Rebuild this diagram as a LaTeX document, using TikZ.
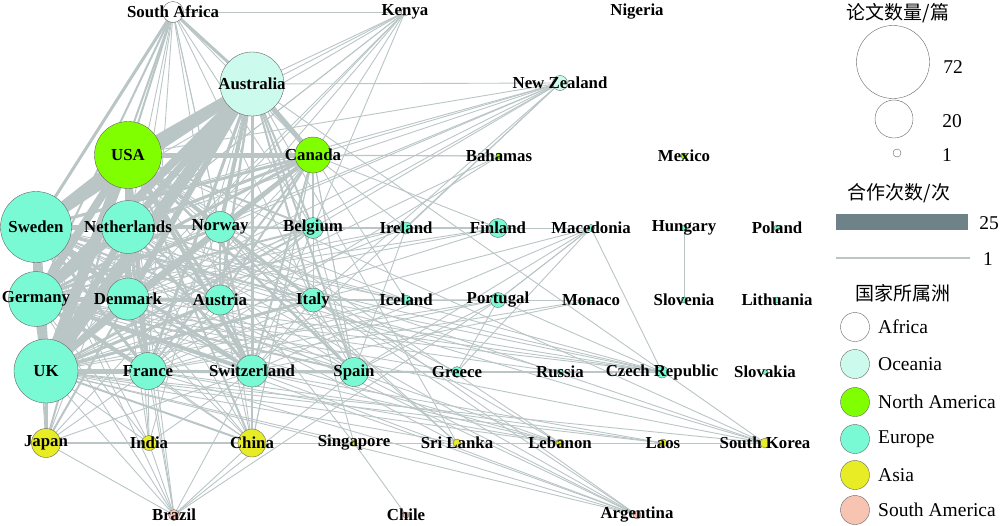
\documentclass[tikz,border=0pt]{standalone}
\usepackage{fontspec}
\setmainfont{Liberation Serif}
\newfontfamily\zhfont{Noto Sans CJK SC}
\pgfdeclarelayer{edges}
\pgfsetlayers{edges,main}

\definecolor{africa}{RGB}{255,255,255}
\definecolor{oceania}{RGB}{204,250,236}
\definecolor{namer}{RGB}{128,255,0}
\definecolor{europe}{RGB}{122,250,212}
\definecolor{asia}{RGB}{232,236,36}
\definecolor{samer}{RGB}{248,196,178}
\definecolor{edgegray}{RGB}{186,197,198}
\definecolor{bargray}{RGB}{111,130,135}

\begin{document}
\begin{tikzpicture}[
    x=1pt, y=-1pt,
    country/.style={circle, draw=black!60, line width=0.4pt, inner sep=0pt, minimum size=#1},
    tag/.style={font=\fontsize{16.8}{18}\selectfont\bfseries, inner sep=0pt},
    key/.style={font=\fontsize{19.5}{21}\selectfont, inner sep=0pt},
    head/.style={font=\zhfont\fontsize{19}{21}\selectfont, inner sep=0pt},
    link/.style={draw=edgegray, line width=#1}
]
    \useasboundingbox (0,0) rectangle (1000,525);

    % countries, one row after another
    \node[country=21, fill=africa, label={[tag]center:South Africa}] (sa) at (173,12) {};
    \node[country=8, fill=africa, label={[tag]center:Kenya}] (kenya) at (405,12) {};
    \node[country=3, fill=africa, label={[tag]center:Nigeria}] (nigeria) at (637,12) {};

    \node[country=64, fill=oceania, label={[tag]center:Australia}] (aus) at (252,84) {};
    \node[country=15, fill=oceania, label={[tag]center:New Zealand}] (nz) at (560,83) {};

    \node[country=67, fill=namer, label={[tag]center:USA}] (usa) at (128,155) {};
    \node[country=36, fill=namer, label={[tag]center:Canada}] (can) at (313,155) {};
    \node[country=6, fill=namer, label={[tag]center:Bahamas}] (bah) at (499,156) {};
    \node[country=6, fill=namer, label={[tag]center:Mexico}] (mex) at (684,156) {};

    \node[country=71, fill=europe, label={[tag]center:Sweden}] (swe) at (36,227) {};
    \node[country=53, fill=europe, label={[tag]center:Netherlands}] (ned) at (128,227) {};
    \node[country=31, fill=europe, label={[tag]center:Norway}] (nor) at (220,227) {};
    \node[country=21, fill=europe, label={[tag]center:Belgium}] (bel) at (313,228) {};
    \node[country=12, fill=europe, label={[tag]center:Ireland}] (ire) at (406,228) {};
    \node[country=19, fill=europe, label={[tag]center:Finland}] (fin) at (498,228) {};
    \node[country=7, fill=europe, label={[tag]center:Macedonia}] (mac) at (591,228) {};
    \node[country=6, fill=europe, label={[tag]center:Hungary}] (hun) at (684,228) {};
    \node[country=6, fill=europe, label={[tag]center:Poland}] (pol) at (777,228) {};

    \node[country=55, fill=europe, label={[tag]center:Germany}] (ger) at (36,299) {};
    \node[country=42, fill=europe, label={[tag]center:Denmark}] (den) at (128,299) {};
    \node[country=30, fill=europe, label={[tag]center:Austria}] (aut) at (220,300) {};
    \node[country=24, fill=europe, label={[tag]center:Italy}] (ita) at (313,300) {};
    \node[country=10, fill=europe, label={[tag]center:Iceland}] (ice) at (406,300) {};
    \node[country=15, fill=europe, label={[tag]center:Portugal}] (por) at (498,300) {};
    \node[country=5, fill=europe, label={[tag]center:Monaco}] (mon) at (591,300) {};
    \node[country=6, fill=europe, label={[tag]center:Slovenia}] (slo) at (684,300) {};
    \node[country=6, fill=europe, label={[tag]center:Lithuania}] (lit) at (777,300) {};

    \node[country=64, fill=europe, label={[tag]center:UK}] (uk) at (46,371) {};
    \node[country=37, fill=europe, label={[tag]center:France}] (fra) at (148,371) {};
    \node[country=32, fill=europe, label={[tag]center:Switzerland}] (sui) at (252,371) {};
    \node[country=29, fill=europe, label={[tag]center:Spain}] (esp) at (354,372) {};
    \node[country=11, fill=europe, label={[tag]center:Greece}] (gre) at (457,372) {};
    \node[country=6, fill=europe, label={[tag]center:Russia}] (rus) at (560,372) {};
    \node[country=12, fill=europe, label={[tag]center:Czech Republic}] (cze) at (662,372) {};
    \node[country=5, fill=europe, label={[tag]center:Slovakia}] (svk) at (765,372) {};

    \node[country=29, fill=asia, label={[tag]center:Japan}] (jpn) at (46,443) {};
    \node[country=15, fill=asia, label={[tag]center:India}] (ind) at (149,443) {};
    \node[country=28, fill=asia, label={[tag]center:China}] (chn) at (252,443) {};
    \node[country=6, fill=asia, label={[tag]center:Singapore}] (sgp) at (354,443) {};
    \node[country=8, fill=asia, label={[tag]center:Sri Lanka}] (lka) at (457,443) {};
    \node[country=8, fill=asia, label={[tag]center:Lebanon}] (lbn) at (560,443) {};
    \node[country=8, fill=asia, label={[tag]center:Laos}] (lao) at (663,443) {};
    \node[country=10, fill=asia, label={[tag]center:South Korea}] (kor) at (765,443) {};

    \node[country=11, fill=samer, label={[tag]center:Brazil}] (bra) at (174,515) {};
    \node[country=6, fill=samer, label={[tag]center:Chile}] (chl) at (406,515) {};
    \node[country=8, fill=samer, label={[tag]center:Argentina}] (arg) at (637,515) {};

    % cooperation links, under the circles
    \begin{pgfonlayer}{edges}
    \foreach \a/\b/\w in {aus/uk/12, aus/swe/10, aus/ger/8, aus/usa/7, aus/ned/7, aus/den/6, aus/can/5, aus/nor/4,
        aus/fra/3, aus/sui/3, aus/aut/2.5, aus/chn/2, aus/jpn/2, aus/bel/2, aus/ita/2, aus/esp/2,
        sa/aus/3, sa/swe/3, sa/usa/2, sa/uk/2, sa/ger/2,
        usa/swe/9, usa/uk/11, usa/ger/8, usa/ned/6, usa/den/6, usa/can/5, usa/nor/4, usa/fra/4, usa/sui/4,
        usa/aut/3, usa/ita/3, usa/esp/2.5, usa/jpn/2, usa/chn/2, usa/bel/2,
        swe/ger/6, swe/uk/8, swe/ned/5, swe/den/5, swe/nor/4, swe/fra/3, swe/sui/3, swe/can/3, swe/aut/2, swe/ita/2,
        ger/uk/7, ger/ned/6, ger/den/5, ger/fra/4, ger/sui/4, ger/aut/4, ger/nor/3, ger/can/3, ger/ita/2, ger/esp/2, ger/bel/2,
        uk/ned/7, uk/den/6, uk/fra/5, uk/sui/3, uk/esp/3, uk/jpn/3, uk/nor/4, uk/aut/3, uk/can/4, uk/ita/3, uk/bel/2, uk/chn/2,
        ned/den/5, ned/nor/3, ned/can/3, ned/fra/3, ned/sui/3, ned/bel/2, ned/aut/2,
        den/nor/3, den/can/3, den/fra/3, den/aut/2, den/sui/2,
        can/nor/3, can/sui/2, can/fra/2, can/aut/2, can/bel/1.5,
        fra/sui/2, sui/esp/2.5, nor/aut/2, nor/sui/2, aut/sui/2, sui/chn/1.5, jpn/chn/1.3}
        \draw[link=\w pt] (\a.center) -- (\b.center);
    \foreach \a/\bs in {sa/{kenya,ned,den,nor,aut,fra,sui,can,bel,ita},
        kenya/{aus,usa,swe,ned,uk,can,nor,bel,ger,den},
        nz/{aus,usa,swe,can,ned,uk,ger,nor,den,bel,sui,ire,ita},
        bah/{can,usa,uk,fra},
        ire/{bel,uk,swe,ned,den,ger,esp,can,fin},
        fin/{swe,nor,ned,uk,den,ger,mac},
        mac/{cze,esp,por,ita,gre,sui},
        hun/{slo},
        ice/{swe,nor,den,uk,ger,ned,fra,can},
        por/{esp,uk,cze,ita,gre,mac,fra,ger,bra},
        mon/{fra,ita,sui},
        gre/{esp,ita,uk,ger,fra,sui,cze},
        rus/{uk,ger,cze,swe,sui},
        cze/{uk,ger,ned,swe,den,aut,ita,esp,sui,fra},
        sgp/{chn,uk,aus,usa,chl},
        lka/{uk,swe,nor,aus,usa},
        lbn/{uk,fra,sui,esp,ita,usa,ger},
        lao/{sui,fra,uk},
        kor/{uk,swe,ger,chn,jpn,usa,aus,ned},
        bra/{uk,jpn,fra,ind,sui,chn,ger,esp,ned,usa,swe},
        arg/{uk,esp,sui,fra,ita,ger,swe,ned,usa},
        jpn/{ind,ger,swe,fra,ned,den,sui},
        ind/{uk,usa,swe,fra,ger,chn,sui,aus,den},
        chn/{ger,swe,ned,fra,den,aus,can,nor},
        ita/{bel,sui,esp,fra,swe,ned,den,nor,can,aut},
        bel/{nor,ire,fra,den,swe,sui,esp,aut},
        esp/{fra,nor,den,ned,swe,can},
        aut/{fra,chn,ita},
        nor/{fra,esp},
        can/{ita,esp,fin,chn,jpn}}
        \foreach \b in \bs
            \draw[link=0.9pt] (\a.center) -- (\b.center);
    \end{pgfonlayer}

    % legend: papers
    \node[head] (papers) at (898,13) {论文数量/篇};
    \node[country=73, fill=white] (p72) at (893,62) {};
    \node[key] (n72) at (953,67) {72};
    \node[country=38, fill=white] (p20) at (894,119) {};
    \node[key] (n20) at (952,121) {20};
    \node[country=8, fill=white] (p1) at (897,153) {};
    \node[key] (n1) at (947,155) {1};

    % legend: cooperation
    \node[head] (coop) at (899,193) {合作次数/次};
    \node[fill=bargray, minimum width=132, minimum height=16, inner sep=0pt] (w25) at (902,222) {};
    \node[key] (n25) at (989,223) {25};
    \coordinate (w1a) at (836,258);
    \coordinate (w1b) at (970,258);
    \draw[link=1.3pt] (w1a) -- (w1b);
    \node[key] (nw1) at (988,259) {1};

    % legend: continents
    \node[head] (cont) at (903,293) {国家所属洲};
    \foreach \c/\t/\y in {africa/Africa/327, oceania/Oceania/364, namer/North America/402,
        europe/Europe/439, asia/Asia/475, samer/South America/510} {
        \node[country=29, fill=\c] (k\c) at (855,\y) {};
        \node[key, anchor=west] (t\c) at (878,\y) {\t};
    }
\end{tikzpicture}
\end{document}
